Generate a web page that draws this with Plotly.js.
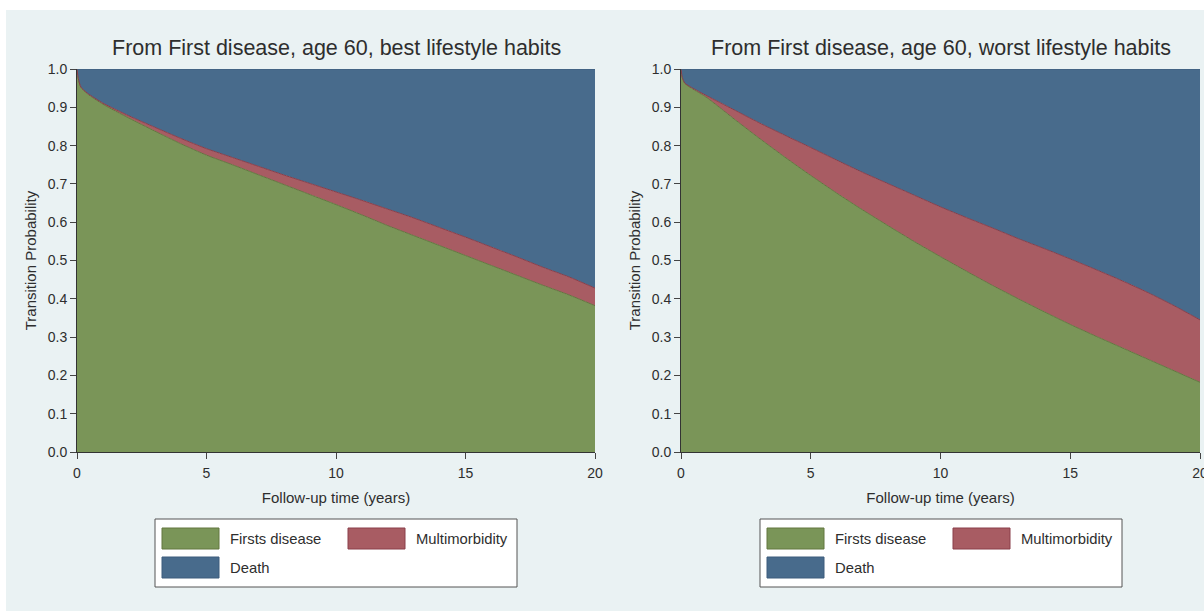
<!DOCTYPE html>
<html>
<head>
<meta charset="utf-8">
<script src="https://cdn.plot.ly/plotly-3.0.1.min.js"></script>
<style>
  html, body { margin: 0; padding: 0; background: #ffffff; }
  #chart { width: 1204px; height: 611px; }
</style>
</head>
<body>
<div id="chart"></div>
<script>
// Follow-up time (years)
const years = [0, 0.05, 0.15, 0.4, 1, 2, 3, 4, 5, 6, 7, 8, 9, 10, 11, 12, 13, 14, 15, 16, 17, 18, 19, 20];

// State occupation probabilities, best lifestyle habits
const bestFirst = [1.0, 0.975, 0.952, 0.935, 0.908, 0.872, 0.838, 0.805, 0.775, 0.750, 0.724, 0.698, 0.672, 0.646, 0.619, 0.591, 0.565, 0.539, 0.513, 0.487, 0.461, 0.435, 0.410, 0.382];
const bestMulti = [0.0, 0.0, 0.001, 0.002, 0.003, 0.006, 0.010, 0.014, 0.017, 0.019, 0.022, 0.025, 0.029, 0.033, 0.038, 0.043, 0.046, 0.047, 0.048, 0.048, 0.048, 0.047, 0.047, 0.046];
const bestDeath = [0.0, 0.025, 0.047, 0.063, 0.089, 0.122, 0.152, 0.181, 0.208, 0.231, 0.254, 0.277, 0.299, 0.321, 0.343, 0.366, 0.389, 0.414, 0.439, 0.465, 0.491, 0.518, 0.543, 0.572];

// State occupation probabilities, worst lifestyle habits
const worstFirst = [1.0, 0.978, 0.962, 0.950, 0.925, 0.872, 0.820, 0.770, 0.722, 0.676, 0.632, 0.590, 0.549, 0.510, 0.472, 0.435, 0.400, 0.366, 0.333, 0.302, 0.272, 0.242, 0.212, 0.182];
const worstMulti = [0.0, 0.0, 0.001, 0.002, 0.005, 0.023, 0.040, 0.057, 0.073, 0.086, 0.098, 0.110, 0.121, 0.130, 0.140, 0.150, 0.157, 0.165, 0.171, 0.174, 0.175, 0.174, 0.170, 0.163];
const worstDeath = [0.0, 0.022, 0.037, 0.048, 0.070, 0.105, 0.140, 0.173, 0.205, 0.238, 0.270, 0.300, 0.330, 0.360, 0.388, 0.415, 0.443, 0.469, 0.496, 0.524, 0.553, 0.584, 0.618, 0.655];

const stateNames = ['Firsts disease', 'Multimorbidity', 'Death'];
const panelTitles = [
  'From First disease, age 60, best lifestyle habits',
  'From First disease, age 60, worst lifestyle habits'
];
const xTickVals = [0, 5, 10, 15, 20];
const yTickVals = [0, 0.1, 0.2, 0.3, 0.4, 0.5, 0.6, 0.7, 0.8, 0.9, 1.0];
const xTitle = 'Follow-up time (years)';
const yTitle = 'Transition Probability';

// Styling
const fillColors = ['#7a9558', '#a85c63', '#486b8c'];
const edgeColors = ['#62773f', '#8a3e4a', '#3d5d7c'];
const bgColor = '#eaf2f3';
const inkColor = '#2e2e2e';
const FONT = 'Liberation Sans, Arial, Helvetica, sans-serif';

const W = 1204, H = 611;
const px = x => x / W;
const py = y => 1 - y / H;

const panels = [
  { series: [bestFirst, bestMulti, bestDeath], xa: 'x', ya: 'y', left: 77, right: 595, legendLeft: 155 },
  { series: [worstFirst, worstMulti, worstDeath], xa: 'x2', ya: 'y2', left: 681, right: 1200, legendLeft: 760 }
];
const plotTop = 69, plotBottom = 452;
const legendWidth = 362, legendTop = 519, legendBottom = 587;
const swatchW = 57, swatchH = 21;

const traces = [];
panels.forEach((p, pi) => {
  p.series.forEach((vals, si) => {
    traces.push({
      x: years,
      y: vals,
      name: stateNames[si],
      type: 'scatter',
      mode: 'lines',
      stackgroup: 'panel' + pi,
      line: { color: edgeColors[si], width: 1, shape: 'spline', smoothing: 0.6 },
      fillcolor: fillColors[si],
      xaxis: p.xa,
      yaxis: p.ya,
      showlegend: false,
      hoverinfo: 'x+y+name'
    });
  });
});

function xAxis(p, anchor) {
  return {
    domain: [px(p.left), px(p.right)],
    anchor: anchor,
    range: [0, 20],
    tickmode: 'array',
    tickvals: xTickVals,
    ticks: 'outside', ticklen: 6, tickwidth: 1, tickcolor: '#444',
    ticklabelstandoff: 2,
    ticklabeloverflow: 'allow',
    showline: true, linecolor: '#333', linewidth: 1,
    showgrid: false, zeroline: false,
    tickfont: { family: FONT, size: 14, color: inkColor },
    title: { text: xTitle, font: { family: FONT, size: 15, color: inkColor }, standoff: 12 },
    fixedrange: true
  };
}
function yAxis(p, anchor) {
  return {
    domain: [py(plotBottom), py(plotTop)],
    anchor: anchor,
    range: [0, 1],
    tickmode: 'array',
    tickvals: yTickVals,
    tickformat: '.1f',
    ticks: 'outside', ticklen: 6, tickwidth: 1, tickcolor: '#444',
    showline: true, linecolor: '#333', linewidth: 1,
    showgrid: false, zeroline: false,
    tickfont: { family: FONT, size: 14, color: inkColor },
    title: { text: yTitle, font: { family: FONT, size: 15, color: inkColor }, standoff: 7 },
    fixedrange: true
  };
}

const shapes = [
  // page background panel
  { type: 'rect', xref: 'paper', yref: 'paper', x0: px(6), x1: 1, y0: 0, y1: py(10),
    fillcolor: bgColor, line: { width: 0 }, layer: 'below' }
];
const annotations = [];

panels.forEach((p, pi) => {
  annotations.push({
    text: panelTitles[pi], xref: 'paper', yref: 'paper',
    x: px((p.left + p.right) / 2), y: py(48), xanchor: 'center', yanchor: 'middle',
    showarrow: false, font: { family: FONT, size: 21.5, color: inkColor }
  });

  // legend box
  shapes.push({ type: 'rect', xref: 'paper', yref: 'paper',
    x0: px(p.legendLeft), x1: px(p.legendLeft + legendWidth), y0: py(legendBottom), y1: py(legendTop),
    fillcolor: '#ffffff', line: { color: '#555', width: 1 }, layer: 'above' });

  const slots = [
    { dx: 7, top: 528 },
    { dx: 193, top: 528 },
    { dx: 7, top: 557 }
  ];
  slots.forEach((s, si) => {
    const x0 = p.legendLeft + s.dx;
    shapes.push({ type: 'rect', xref: 'paper', yref: 'paper',
      x0: px(x0), x1: px(x0 + swatchW), y0: py(s.top + swatchH), y1: py(s.top),
      fillcolor: fillColors[si], line: { color: edgeColors[si], width: 1 }, layer: 'above' });
    annotations.push({
      text: stateNames[si], xref: 'paper', yref: 'paper',
      x: px(x0 + 66), y: py(s.top + swatchH / 2), xanchor: 'left', yanchor: 'middle',
      showarrow: false, font: { family: FONT, size: 14.8, color: inkColor }
    });
  });
});

const layout = {
  width: W, height: H,
  margin: { l: 0, r: 0, t: 0, b: 0, pad: 0 },
  paper_bgcolor: '#ffffff',
  plot_bgcolor: 'rgba(0,0,0,0)',
  showlegend: false,
  font: { family: FONT, color: inkColor },
  xaxis: xAxis(panels[0], 'y'),
  yaxis: yAxis(panels[0], 'x'),
  xaxis2: xAxis(panels[1], 'y2'),
  yaxis2: yAxis(panels[1], 'x2'),
  shapes: shapes,
  annotations: annotations
};

Plotly.newPlot('chart', traces, layout, { displayModeBar: false, staticPlot: true });
</script>
</body>
</html>
